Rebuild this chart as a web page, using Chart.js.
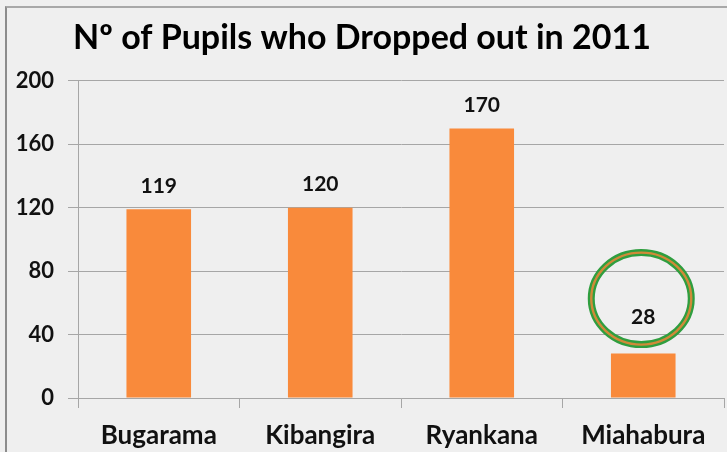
<!DOCTYPE html>
<html>
<head>
<meta charset="utf-8">
<script src="https://cdn.jsdelivr.net/npm/chart.js@4"></script>
<style>
    body { margin: 0; background: #efefef; }
    #wrap { position: absolute; left: 0; top: 0; width: 727px; height: 452px; background: #efefef; }
    #frame { position: absolute; left: 5px; top: 6px; width: 730px; height: 460px; border-left: 2px solid #8c8c8c; border-top: 2px solid #a8a8a8; }
    canvas { position: absolute; left: 0; top: 0; }
</style>
</head>
<body>
<div id="wrap">
    <div id="frame"></div>
    <canvas id="myChart" width="727" height="452"></canvas>
</div>
<script>
const schools = ['Bugarama', 'Kibangira', 'Ryankana', 'Miahabura'];
const dropped_out = [119, 120, 170, 28];
const y_ticks = [0, 40, 80, 120, 160, 200];
const circled_school = 'Miahabura';

// value labels on top of each bar + ring around the circled one
const barLabels = {
    id: 'barLabels',
    afterDatasetsDraw(chart) {
        const ctx = chart.ctx;
        const meta = chart.getDatasetMeta(0);
        const idx = schools.indexOf(circled_school);
        ctx.save();
        ctx.font = 'bold 21px Lato';
        ctx.fillStyle = '#111';
        ctx.textAlign = 'center';
        ctx.textBaseline = 'middle';
        meta.data.forEach((bar, i) => {
            const lift = i === idx ? 36 : 23;
            ctx.fillText(dropped_out[i], bar.x, bar.y - lift);
        });
        const bar = meta.data[idx];
        const cx = bar.x - 2, cy = bar.y - 55;
        ctx.beginPath();
        ctx.ellipse(cx, cy, 50, 46, 0, 0, Math.PI * 2);
        ctx.lineWidth = 7;
        ctx.strokeStyle = '#2f9e3f';
        ctx.stroke();
        ctx.beginPath();
        ctx.ellipse(cx, cy, 50, 46, 0, 0, Math.PI * 2);
        ctx.lineWidth = 2.4;
        ctx.strokeStyle = '#d08a38';
        ctx.stroke();
        ctx.restore();
    }
};

const ctx1 = document.getElementById('myChart').getContext('2d');
new Chart(ctx1, {
    type: 'bar',
    data: {
        labels: schools,
        datasets: [{
            label: 'Dropped out',
            data: dropped_out,
            backgroundColor: '#f98a3b',
            borderWidth: 0,
            barPercentage: 0.4,
            categoryPercentage: 1.0
        }]
    },
    options: {
        responsive: false,
        animation: false,
        layout: { padding: { left: 0, right: 3, top: 0, bottom: 0 } },
        plugins: {
            legend: { display: false },
            tooltip: { enabled: false },
            title: {
                display: true,
                text: 'Nº of Pupils who Dropped out in 2011',
                color: '#000',
                font: { family: 'Lato', size: 34, weight: 'bold' },
                padding: { top: 18, bottom: 22 }
            }
        },
        scales: {
            y: {
                min: 0,
                max: 200,
                afterBuildTicks: scale => { scale.ticks = y_ticks.map(v => ({ value: v })); },
                afterFit: scale => { scale.width = 78; },
                ticks: {
                    color: '#111',
                    font: { family: 'Lato', size: 22, weight: 'bold' },
                    padding: 14
                },
                grid: { color: '#a6a6a6', lineWidth: 1, tickLength: 10 },
                border: { color: '#a6a6a6' }
            },
            x: {
                afterFit: scale => { scale.height = 54; },
                ticks: {
                    color: '#111',
                    font: { family: 'Lato', size: 26, weight: 'bold' },
                    padding: 12
                },
                grid: { offset: true, drawOnChartArea: false, color: '#a6a6a6', tickLength: 10 },
                border: { color: '#a6a6a6' }
            }
        }
    },
    plugins: [barLabels]
});
</script>
</body>
</html>
